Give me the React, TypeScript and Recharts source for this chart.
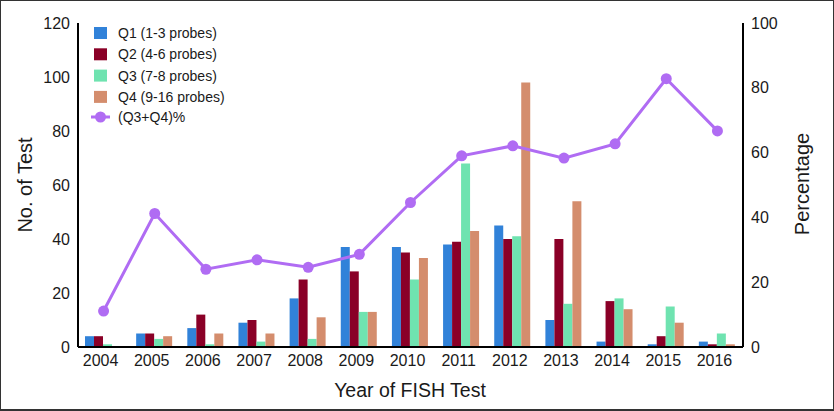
import React from 'react';
import { ComposedChart, Bar, Line, XAxis, YAxis, Legend } from 'recharts';

const years = ['2004', '2005', '2006', '2007', '2008', '2009', '2010', '2011', '2012', '2013', '2014', '2015', '2016'];
const q1 = [4, 5, 7, 9, 18, 37, 37, 38, 45, 10, 2, 1, 2];
const q2 = [4, 5, 12, 10, 25, 28, 35, 39, 40, 40, 17, 4, 1];
const q3 = [1, 3, 1, 2, 3, 13, 25, 68, 41, 16, 18, 15, 5];
const q4 = [0, 4, 5, 5, 11, 13, 33, 43, 98, 54, 14, 9, 1];
const pct = [11.1, 41.2, 24.0, 26.9, 24.6, 28.6, 44.6, 59.0, 62.1, 58.3, 62.7, 82.8, 66.7];

const leftTicks = [0, 20, 40, 60, 80, 100, 120];
const rightTicks = [0, 20, 40, 60, 80, 100];

const seriesNames = ['Q1 (1-3 probes)', 'Q2 (4-6 probes)', 'Q3 (7-8 probes)', 'Q4 (9-16 probes)'];
const seriesKeys = ['q1', 'q2', 'q3', 'q4'];
const seriesColors = ['#3182d9', '#8a0027', '#6fe3b0', '#d48d6d'];
const lineName = '(Q3+Q4)%';
const lineColor = '#b06cf3';

const data = years.map((y, i) => ({ year: y, q1: q1[i], q2: q2[i], q3: q3[i], q4: q4[i], pct: pct[i] }));

const FONT = '"Liberation Sans", Arial, Helvetica, sans-serif';
const TXT = '#1a1a1a';

const LegendContent = () => (
  <svg width={260} height={130} style={{ display: 'block' }}>
    {seriesNames.map((n, i) => (
      <g key={n}>
        <rect x={9} y={5 + i * 21.3} width={13} height={12} fill={seriesColors[i]} />
        <text x={33} y={16 + i * 21.3} fontSize={14} fontFamily={FONT} fill={TXT}>{n}</text>
      </g>
    ))}
    <g>
      <line x1={6} x2={25} y1={95} y2={95} stroke={lineColor} strokeWidth={3} />
      <circle cx={15.5} cy={95} r={5.5} fill={lineColor} />
      <text x={33} y={100} fontSize={14} fontFamily={FONT} fill={TXT}>{lineName}</text>
    </g>
  </svg>
);

export default function App() {
  return (
    <div style={{ position: 'absolute', left: 0, top: 0, width: 834, height: 411, background: '#fff', fontFamily: FONT }}>
      <ComposedChart
        width={834}
        height={411}
        data={data}
        margin={{ top: 23, right: 0, bottom: 0, left: 0 }}
        barCategoryGap={7}
        barGap={0}
      >
        <XAxis
          dataKey="year"
          height={64}
          tickLine={false}
          axisLine={{ stroke: '#000', strokeWidth: 2 }}
          tick={{ fontSize: 16, fill: TXT, fontFamily: FONT, dx: -3 }}
          interval={0}
          label={{
            content: () => (
              <text x={410} y={397} textAnchor="middle" fontSize={19.5} fontFamily={FONT} fill={TXT}>
                Year of FISH Test
              </text>
            ),
          }}
        />
        <YAxis
          yAxisId="left"
          orientation="left"
          width={78}
          domain={[0, 120]}
          ticks={leftTicks}
          tickLine={false}
          axisLine={{ stroke: '#000', strokeWidth: 2 }}
          tick={{ fontSize: 16, fill: TXT, fontFamily: FONT }}
          label={{
            content: () => (
              <text x={32} y={185} transform="rotate(-90 32 185)" textAnchor="middle" fontSize={20} fontFamily={FONT} fill={TXT}>
                No. of Test
              </text>
            ),
          }}
        />
        <YAxis
          yAxisId="right"
          orientation="right"
          width={91}
          domain={[0, 100]}
          ticks={rightTicks}
          tickLine={false}
          axisLine={{ stroke: '#000', strokeWidth: 2 }}
          tick={{ fontSize: 16, fill: TXT, fontFamily: FONT }}
          label={{
            content: () => (
              <text x={809} y={184} transform="rotate(-90 809 184)" textAnchor="middle" fontSize={20} fontFamily={FONT} fill={TXT}>
                Percentage
              </text>
            ),
          }}
        />
        <Legend
          layout="vertical"
          align="center"
          verticalAlign="middle"
          wrapperStyle={{ position: 'absolute', left: 85, top: 22, width: 260, height: 130 }}
          content={() => <LegendContent />}
        />
        {seriesKeys.map((k, i) => (
          <Bar key={k} yAxisId="left" dataKey={k} name={seriesNames[i]} fill={seriesColors[i]} isAnimationActive={false} />
        ))}
        <Line
          yAxisId="right"
          dataKey="pct"
          name={lineName}
          stroke={lineColor}
          strokeWidth={3}
          dot={{ r: 5.5, fill: lineColor, stroke: 'none' }}
          activeDot={false}
          isAnimationActive={false}
        />
      </ComposedChart>
      <div
        style={{
          position: 'absolute',
          left: 0,
          top: 0,
          width: 834,
          height: 411,
          boxSizing: 'border-box',
          border: '1px solid #333',
          borderBottomWidth: 2,
          pointerEvents: 'none',
          zIndex: 10,
        }}
      />
    </div>
  );
}
